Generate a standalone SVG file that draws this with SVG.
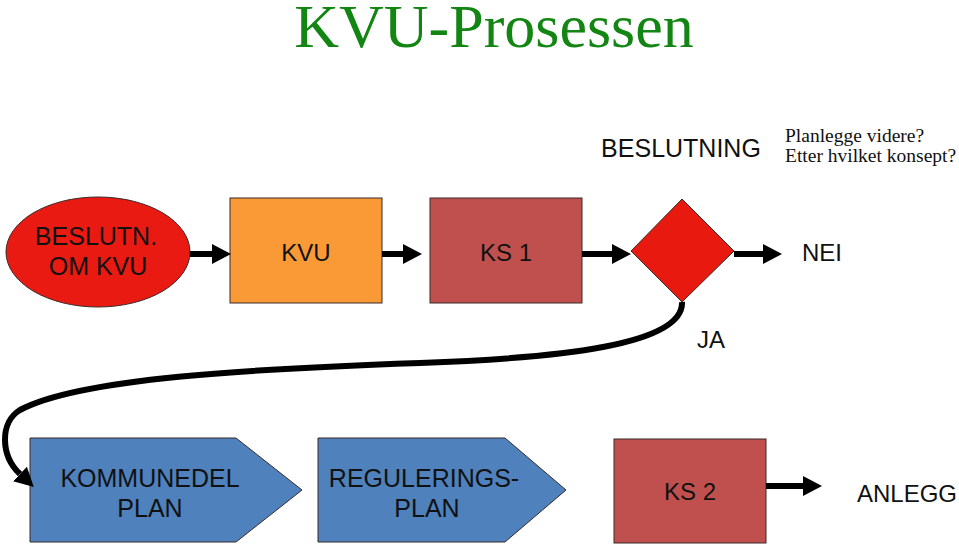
<svg xmlns="http://www.w3.org/2000/svg" width="959" height="548" viewBox="0 0 959 548">
<style>
.t{font-family:"Liberation Sans",Arial,sans-serif;font-size:24px;fill:#111;text-anchor:middle}
.s{font-family:"Liberation Serif","Times New Roman",serif;fill:#111}
.sh{stroke:#3a2a2a;stroke-width:1}
.c{fill:none;stroke:#000;stroke-width:6;marker-end:url(#ah)}
</style>
<defs>
<marker id="ah" viewBox="0 0 19 20" refX="0" refY="10" markerWidth="19" markerHeight="20" markerUnits="userSpaceOnUse" orient="auto">
<path d="M0,0 L19,10 L0,20 z" fill="#000"/>
</marker>
</defs>
<rect width="959" height="548" fill="#fff"/>
<text x="494" y="47" font-family="Liberation Serif,'Times New Roman',serif" font-size="62" fill="#138513" text-anchor="middle">KVU-Prosessen</text>
<text class="t" x="681" y="157" style="font-size:25px">BESLUTNING</text>
<text class="s" x="785" y="142" font-size="19.5">Planlegge videre?</text>
<text class="s" x="785" y="162" font-size="19.5">Etter hvilket konsept?</text>

<g id="beslutn">
<ellipse class="sh" cx="98" cy="252" rx="92" ry="55" fill="#E81A12"/>
<text class="t" x="96" y="245" style="font-size:25px">BESLUTN.</text>
<text class="t" x="98" y="275" style="font-size:25px">OM KVU</text>
</g>
<g id="kvu">
<rect class="sh" x="230" y="198" width="152" height="105" fill="#F99A37"/>
<text class="t" x="306" y="261">KVU</text>
</g>
<g id="ks1">
<rect class="sh" x="430" y="198" width="152" height="105" fill="#C0504D"/>
<text class="t" x="506" y="261">KS 1</text>
</g>
<g id="beslutning">
<polygon class="sh" points="682,199 734,251 682,302 631,251" fill="#E8190F"/>
</g>
<g id="nei"><text class="t" x="822" y="261">NEI</text></g>
<g id="ja"><text class="t" x="711" y="348">JA</text></g>
<g id="kommunedel">
<polygon class="sh" points="30,438 236,438 302,490 236,542 30,542" fill="#4F81BD"/>
<text class="t" x="150" y="487" style="font-size:25px">KOMMUNEDEL</text>
<text class="t" x="150" y="517" style="font-size:25px">PLAN</text>
</g>
<g id="regulering">
<polygon class="sh" points="318,438 505,438 566,490 505,542 318,542" fill="#4F81BD"/>
<text class="t" x="424" y="487" style="font-size:25px">REGULERINGS-</text>
<text class="t" x="427" y="517" style="font-size:25px">PLAN</text>
</g>
<g id="ks2">
<rect class="sh" x="614" y="439" width="152" height="104" fill="#C0504D"/>
<text class="t" x="690" y="500">KS 2</text>
</g>
<g id="anlegg"><text class="t" x="907" y="502">ANLEGG</text></g>

<g id="connectors">
<line class="c" x1="190" y1="254" x2="212" y2="254"/>
<line class="c" x1="382" y1="254" x2="403" y2="254"/>
<line class="c" x1="582" y1="254" x2="612" y2="254"/>
<line class="c" x1="734" y1="254" x2="763" y2="254"/>
<line class="c" x1="766" y1="486" x2="803" y2="486"/>
<path class="c" d="M682,302 C684,345 560,358 420,363 C250,369 80,378 20,410 C0,422 0,455 20,474"/>
</g>
</svg>
